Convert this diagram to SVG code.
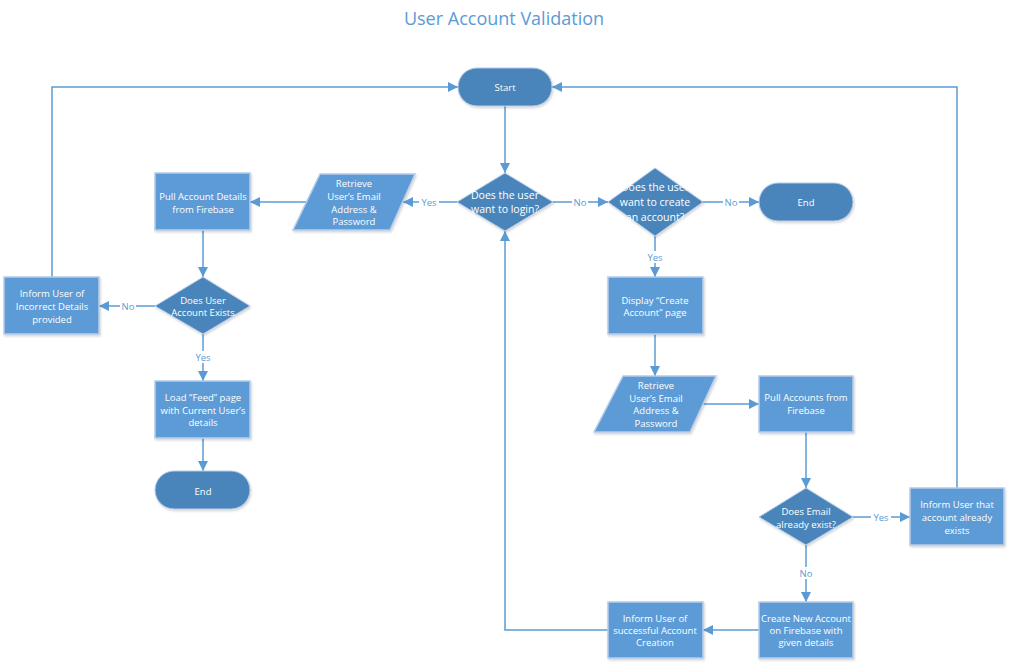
<svg xmlns="http://www.w3.org/2000/svg" width="1010" height="666" viewBox="0 0 1010 666">
<defs>
<marker id="arr" markerUnits="userSpaceOnUse" markerWidth="10" markerHeight="10" viewBox="0 0 10 10" refX="10" refY="5" orient="auto">
<path d="M0,0 L10,5 L0,10 Z" fill="#5B9BD5"/>
</marker>
<filter id="sh" x="-10%" y="-10%" width="125%" height="130%">
<feDropShadow dx="1" dy="1.5" stdDeviation="1" flood-color="#000" flood-opacity="0.18"/>
</filter>
</defs>
<style>
.proc{fill:#5B9BD5;stroke:#B7CCE9;stroke-width:1.5;filter:url(#sh)}
.dark{fill:#4A85BB;stroke:#B7CCE9;stroke-width:1;filter:url(#sh)}
.t{font-family:"Open Sans","Liberation Sans",sans-serif;font-size:9.5px;fill:#FFFFFF;text-anchor:middle;dominant-baseline:central}
.tb{font-family:"Open Sans","Liberation Sans",sans-serif;font-size:10.5px;fill:#FFFFFF;text-anchor:middle;dominant-baseline:central}
.c{fill:none;stroke:#5B9BD5;stroke-width:1.5}
.lbl{font-family:"Open Sans","Liberation Sans",sans-serif;font-size:9.5px;fill:#5B9BD5;text-anchor:middle;dominant-baseline:central}
.lb{fill:#FFFFFF}
.title{font-family:"Open Sans","Liberation Sans",sans-serif;font-size:18px;fill:#5B9BD5;text-anchor:middle}
</style>
<rect width="1010" height="666" fill="#FFFFFF"/>
<text class="title" x="504" y="25">User Account Validation</text>

<g id="connectors">
<path class="c" d="M505,106 L505,173" marker-end="url(#arr)"/>
<path class="c" d="M457,202 L403,202" marker-end="url(#arr)"/>
<path class="c" d="M306,202 L250,202" marker-end="url(#arr)"/>
<path class="c" d="M203,230 L203,277" marker-end="url(#arr)"/>
<path class="c" d="M155,306 L99,306" marker-end="url(#arr)"/>
<path class="c" d="M52,277 L52,87 L458,87" marker-end="url(#arr)"/>
<path class="c" d="M203,334 L203,381" marker-end="url(#arr)"/>
<path class="c" d="M203,438 L203,471" marker-end="url(#arr)"/>
<path class="c" d="M553,202 L608,202" marker-end="url(#arr)"/>
<path class="c" d="M703,202 L759,202" marker-end="url(#arr)"/>
<path class="c" d="M655,236 L655,277" marker-end="url(#arr)"/>
<path class="c" d="M655,334 L655,376" marker-end="url(#arr)"/>
<path class="c" d="M703,404 L759,404" marker-end="url(#arr)"/>
<path class="c" d="M806,432 L806,488" marker-end="url(#arr)"/>
<path class="c" d="M853,517 L910,517" marker-end="url(#arr)"/>
<path class="c" d="M957,488 L957,87 L552,87" marker-end="url(#arr)"/>
<path class="c" d="M806,545 L806,602" marker-end="url(#arr)"/>
<path class="c" d="M759,630 L703,630" marker-end="url(#arr)"/>
<path class="c" d="M608,630 L505,630 L505,231" marker-end="url(#arr)"/>
<rect class="lb" x="419" y="196" width="20" height="12"/><text class="lbl" x="429" y="202">Yes</text>
<rect class="lb" x="572" y="196" width="16" height="12"/><text class="lbl" x="580" y="202">No</text>
<rect class="lb" x="120" y="300" width="16" height="12"/><text class="lbl" x="128" y="306">No</text>
<rect class="lb" x="193" y="351" width="20" height="12"/><text class="lbl" x="203" y="357">Yes</text>
<rect class="lb" x="723" y="196" width="16" height="12"/><text class="lbl" x="731" y="202">No</text>
<rect class="lb" x="645" y="251" width="20" height="12"/><text class="lbl" x="655" y="257">Yes</text>
<rect class="lb" x="871" y="511" width="20" height="12"/><text class="lbl" x="881" y="517">Yes</text>
<rect class="lb" x="798" y="567" width="16" height="12"/><text class="lbl" x="806" y="573">No</text>
</g>

<g id="start">
<rect class="dark" x="458" y="68" width="94" height="38" rx="19" ry="19"/>
<text class="t" x="505" y="87">Start</text>
</g>

<g id="q-login">
<polygon class="dark" points="505,173 553,202 505,231 457,202"/>
<text class="tb" x="505" y="195">Does the user</text>
<text class="tb" x="505" y="209">want to login?</text>
</g>

<g id="retrieve-login">
<polygon class="proc" points="320,174 415,174 390,230 293,230"/>
<text class="t" x="354" y="183">Retrieve</text>
<text class="t" x="354" y="196">User’s Email</text>
<text class="t" x="354" y="209">Address &amp;</text>
<text class="t" x="354" y="221">Password</text>
</g>

<g id="pull-details">
<rect class="proc" x="155" y="173" width="95" height="57"/>
<text class="t" x="203" y="196">Pull Account Details</text>
<text class="t" x="203" y="209">from Firebase</text>
</g>

<g id="q-exists">
<polygon class="dark" points="203,277 250,306 203,334 155,306"/>
<text class="t" x="203" y="300">Does User</text>
<text class="t" x="203" y="312">Account Exists</text>
</g>

<g id="inform-incorrect">
<rect class="proc" x="4" y="277" width="95" height="57"/>
<text class="t" x="52" y="293">Inform User of</text>
<text class="t" x="52" y="306">Incorrect Details</text>
<text class="t" x="52" y="319">provided</text>
</g>

<g id="load-feed">
<rect class="proc" x="155" y="381" width="95" height="57"/>
<text class="t" x="203" y="397">Load “Feed” page</text>
<text class="t" x="203" y="410">with Current User’s</text>
<text class="t" x="203" y="422">details</text>
</g>

<g id="end-left">
<rect class="dark" x="155" y="471" width="95" height="38" rx="19" ry="19"/>
<text class="t" x="203" y="491">End</text>
</g>

<g id="q-create">
<polygon class="dark" points="655,168 703,202 655,236 608,202"/>
<text class="tb" x="655" y="187">Does the user</text>
<text class="tb" x="655" y="202">want to create</text>
<text class="tb" x="655" y="217">an account?</text>
</g>

<g id="end-right">
<rect class="dark" x="759" y="183" width="94" height="38" rx="19" ry="19"/>
<text class="t" x="806" y="202">End</text>
</g>

<g id="display-create">
<rect class="proc" x="608" y="277" width="95" height="57"/>
<text class="t" x="655" y="300">Display “Create</text>
<text class="t" x="655" y="312">Account” page</text>
</g>

<g id="retrieve-create">
<polygon class="proc" points="623,376 716,376 690,432 594,432"/>
<text class="t" x="656" y="385">Retrieve</text>
<text class="t" x="656" y="398">User’s Email</text>
<text class="t" x="656" y="410">Address &amp;</text>
<text class="t" x="656" y="423">Password</text>
</g>

<g id="pull-accounts">
<rect class="proc" x="759" y="376" width="94" height="56"/>
<text class="t" x="806" y="397">Pull Accounts from</text>
<text class="t" x="806" y="410">Firebase</text>
</g>

<g id="q-email">
<polygon class="dark" points="806,488 853,517 806,545 759,517"/>
<text class="t" x="806" y="511">Does Email</text>
<text class="t" x="806" y="524">already exist?</text>
</g>

<g id="inform-exists">
<rect class="proc" x="910" y="488" width="94" height="57"/>
<text class="t" x="957" y="504">Inform User that</text>
<text class="t" x="957" y="517">account already</text>
<text class="t" x="957" y="530">exists</text>
</g>

<g id="create-account">
<rect class="proc" x="759" y="602" width="94" height="56"/>
<text class="t" x="806" y="618">Create New Account</text>
<text class="t" x="806" y="630">on Firebase with</text>
<text class="t" x="806" y="642">given details</text>
</g>

<g id="inform-success">
<rect class="proc" x="608" y="602" width="95" height="56"/>
<text class="t" x="655" y="618">Inform User of</text>
<text class="t" x="655" y="630">successful Account</text>
<text class="t" x="655" y="642">Creation</text>
</g>
</svg>
